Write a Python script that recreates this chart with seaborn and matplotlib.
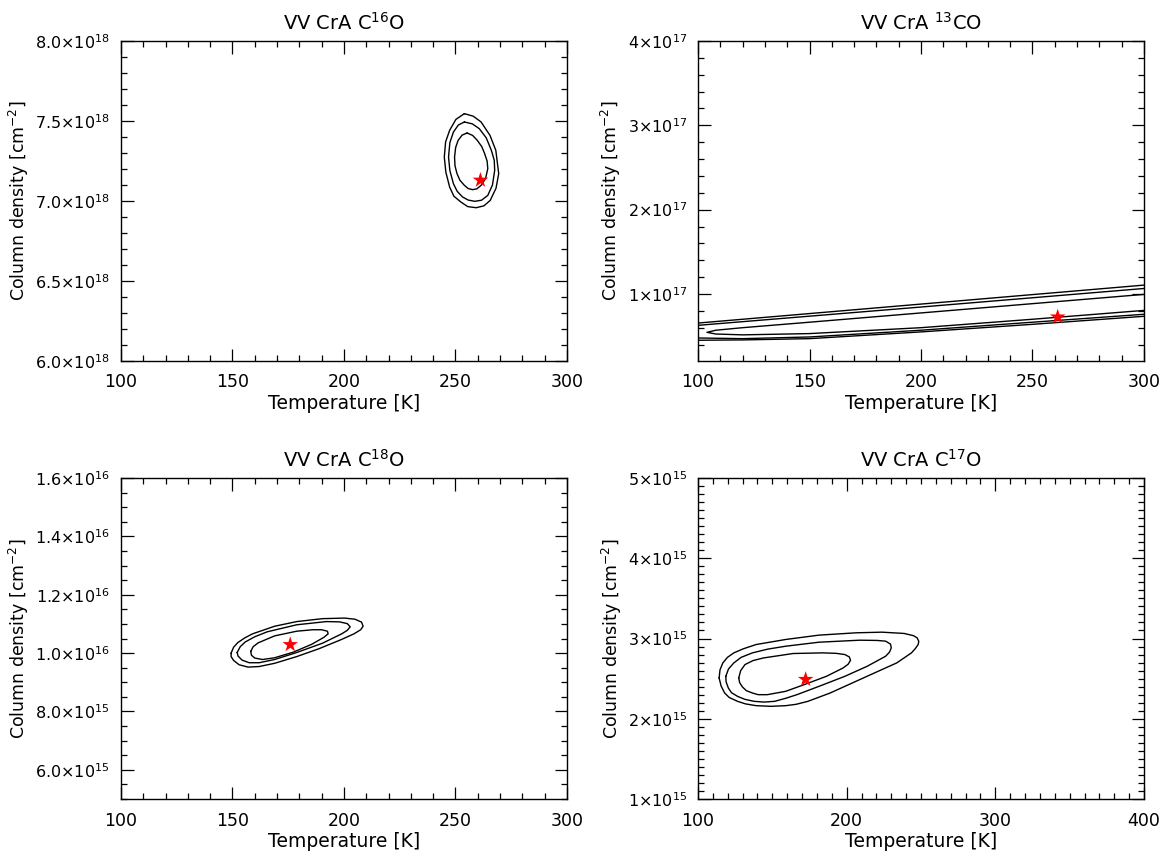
import matplotlib

matplotlib.use("Agg")
import matplotlib.pyplot as plt
from matplotlib.ticker import MultipleLocator, FuncFormatter
import numpy as np
import seaborn as sns

# chi^2 confidence contours; N in units of `scale`

# --- VV CrA C16O (N / 1e18) ---
c16o_scale = 1e18
c16o_outer_t = [254.0, 258.0, 261.5, 265.5, 268.1, 269.4, 268.2, 265.6, 262.8, 259.3, 255.5,
                252.4, 249.3, 247.4, 245.7, 245.0, 245.6, 247.4, 250.2, 254.0]
c16o_outer_n = [7.546, 7.530, 7.494, 7.410, 7.317, 7.171, 7.080, 7.004, 6.970, 6.958, 6.965,
                6.994, 7.030, 7.087, 7.180, 7.275, 7.370, 7.442, 7.510, 7.546]
c16o_mid_t = [254.0, 257.6, 260.7, 263.8, 266.1, 267.4, 267.6, 266.6, 264.5, 261.7, 258.7,
              255.7, 253.2, 250.8, 249.1, 247.5, 246.9, 247.5, 249.1, 251.3, 254.0]
c16o_mid_n = [7.494, 7.482, 7.452, 7.395, 7.317, 7.255, 7.192, 7.100, 7.035, 7.005, 6.998,
              7.006, 7.025, 7.060, 7.108, 7.190, 7.275, 7.365, 7.431, 7.475, 7.494]
c16o_inner_t = [255.2, 257.7, 259.8, 261.8, 263.1, 264.2, 264.5, 263.5, 261.5, 259.6, 257.7,
                255.7, 254.0, 252.0, 250.7, 249.8, 249.6, 250.1, 251.2, 253.0, 255.2]
c16o_inner_n = [7.425, 7.410, 7.379, 7.340, 7.296, 7.250, 7.202, 7.140, 7.098, 7.076, 7.071,
                7.078, 7.098, 7.130, 7.171, 7.220, 7.275, 7.335, 7.379, 7.412, 7.425]
c16o_best = (261.2, 7.13)

# --- VV CrA 13CO (N / 1e17) --- contours run off the grid edges
c13o_scale = 1e17
c13o_outer_top_t = [100, 200, 300]
c13o_outer_top_n = [0.655, 0.880, 1.105]
c13o_mid_top_t = [100, 200, 300]
c13o_mid_top_n = [0.628, 0.845, 1.065]
c13o_inner_t = [300, 250, 200, 150, 120, 108, 104, 108, 120, 150, 200, 250, 300]
c13o_inner_n = [0.995, 0.885, 0.775, 0.665, 0.600, 0.570, 0.545, 0.525, 0.515, 0.530, 0.600, 0.700, 0.805]
c13o_mid_bot_t = [100, 120, 150, 200, 250, 300]
c13o_mid_bot_n = [0.478, 0.470, 0.490, 0.570, 0.665, 0.759]
c13o_outer_bot_t = [100, 120, 150, 200, 250, 300]
c13o_outer_bot_n = [0.451, 0.455, 0.470, 0.550, 0.640, 0.735]
c13o_best = (261.3, 0.727)

# --- VV CrA C18O (N / 1e16) ---
c18o_scale = 1e16
c18o_outer_t = [149.4, 150.5, 152.4, 155.5, 159.0, 168.9, 178.8, 190.4, 200.3, 205.0, 207.9,
                208.6, 207.5, 204.5, 198.7, 188.8, 178.8, 168.9, 162.0, 157.0, 153.0, 150.5,
                149.4, 149.4]
c18o_outer_n = [1.000, 1.020, 1.036, 1.052, 1.066, 1.092, 1.108, 1.118, 1.120, 1.116, 1.106,
                1.092, 1.080, 1.066, 1.046, 1.015, 0.988, 0.965, 0.954, 0.952, 0.960, 0.975,
                0.988, 1.000]
c18o_mid_t = [152.1, 153.5, 155.7, 160.0, 165.6, 178.8, 192.1, 198.0, 201.5, 202.8, 201.5,
              199.0, 190.4, 178.8, 168.9, 162.0, 157.5, 154.3, 152.5, 152.1]
c18o_mid_n = [1.002, 1.022, 1.038, 1.056, 1.073, 1.097, 1.108, 1.107, 1.101, 1.090, 1.078,
              1.066, 1.034, 1.002, 0.978, 0.967, 0.967, 0.976, 0.990, 1.002]
c18o_inner_t = [158.2, 159.3, 161.5, 168.9, 178.8, 186.0, 190.0, 192.6, 192.9, 191.0, 185.5,
                177.2, 168.9, 163.5, 160.0, 158.5, 158.2]
c18o_inner_n = [1.006, 1.022, 1.035, 1.059, 1.075, 1.080, 1.080, 1.075, 1.066, 1.054, 1.030,
                1.003, 0.984, 0.978, 0.983, 0.993, 1.006]
c18o_best = (175.9, 1.029)

# --- VV CrA C17O (N / 1e15) ---
c17o_scale = 1e15
c17o_outer_t = [114.2, 114.8, 116.7, 119.8, 124.1, 130.5, 139.1, 159.0, 181.4, 206.3, 223.7,
                238.7, 245.0, 247.4, 248.5, 248.1, 246.2, 243.6, 233.7, 218.7, 203.8, 188.9,
                173.9, 166.0, 159.0, 149.0, 139.1, 132.0, 126.6, 121.0, 117.9, 115.5, 114.2]
c17o_outer_n = [2.508, 2.610, 2.696, 2.765, 2.821, 2.872, 2.925, 2.988, 3.042, 3.071, 3.079,
                3.063, 3.035, 3.008, 2.965, 2.925, 2.875, 2.821, 2.696, 2.571, 2.446, 2.321,
                2.217, 2.180, 2.163, 2.155, 2.163, 2.185, 2.217, 2.265, 2.321, 2.410, 2.508]
c17o_mid_t = [118.7, 120.5, 124.1, 129.0, 136.6, 147.0, 159.0, 181.4, 208.8, 220.5, 226.2,
              229.5, 230.0, 228.8, 226.2, 213.8, 198.8, 181.4, 166.5, 159.0, 151.5, 144.5,
              137.8, 131.5, 126.6, 122.5, 120.4, 118.9, 118.7]
c17o_mid_n = [2.529, 2.620, 2.696, 2.765, 2.821, 2.868, 2.904, 2.954, 2.979, 2.976, 2.967,
              2.930, 2.883, 2.830, 2.779, 2.654, 2.529, 2.404, 2.300, 2.255, 2.217, 2.208,
              2.217, 2.242, 2.279, 2.325, 2.383, 2.460, 2.529]
c17o_inner_t = [127.4, 128.7, 131.6, 137.0, 144.1, 164.0, 183.9, 193.0, 198.8, 201.8, 202.6,
                201.0, 197.6, 186.4, 171.4, 159.0, 146.6, 140.5, 136.6, 132.5, 129.9, 128.0, 127.4]
c17o_inner_n = [2.508, 2.600, 2.675, 2.725, 2.758, 2.813, 2.821, 2.815, 2.800, 2.770, 2.729,
                2.680, 2.633, 2.529, 2.425, 2.342, 2.300, 2.300, 2.321, 2.350, 2.396, 2.450, 2.508]
c17o_best = (172.4, 2.49)


def sci_formatter(decimals):
    def fmt(v, pos):
        if v <= 0:
            return ""
        exp = int(np.floor(np.log10(v) + 1e-9))
        mant = v / 10 ** exp
        return f"{mant:.{decimals}f}\u00d710$^{{{exp}}}$"
    return FuncFormatter(fmt)


def draw_panel(ax, title, scale, curves, best, xlim, xmaj, ylim, ymaj, ymin, decimals):
    for t, n in curves:
        sns.lineplot(x=t, y=np.array(n) * scale, ax=ax, sort=False, estimator=None,
                     color="black", lw=1.0)
    sns.scatterplot(x=[best[0]], y=[best[1] * scale], ax=ax, marker="*", s=140,
                    color="red", edgecolor="none", zorder=5)
    ax.set_xlim(*xlim)
    ax.set_ylim(ylim[0] * scale, ylim[1] * scale)
    ax.xaxis.set_major_locator(MultipleLocator(xmaj))
    ax.xaxis.set_minor_locator(MultipleLocator(10))
    ax.yaxis.set_major_locator(MultipleLocator(ymaj * scale))
    ax.yaxis.set_minor_locator(MultipleLocator(ymin * scale))
    ax.yaxis.set_major_formatter(sci_formatter(decimals))
    ax.tick_params(which="both", direction="in", top=True, right=True, width=0.9,
                   color="black", labelcolor="black")
    ax.tick_params(which="major", length=9)
    ax.tick_params(which="minor", length=4.5)
    ax.tick_params(axis="y", pad=8, labelsize=11.5)
    ax.tick_params(axis="x", pad=9, labelsize=12.5)
    ax.set_title(title, fontsize=14, pad=8, color="black")
    ax.set_xlabel("Temperature [K]", fontsize=13.5, labelpad=2, color="black")
    ax.set_ylabel(r"Column density [cm$^{-2}$]", fontsize=12.5, labelpad=3, color="black")
    for sp in ax.spines.values():
        sp.set_linewidth(1.0)
        sp.set_color("black")


sns.set_theme(style="ticks")
plt.rcParams["font.family"] = ["DejaVu Sans"]
plt.rcParams["mathtext.fontset"] = "dejavusans"
plt.rcParams["text.color"] = "black"

fig = plt.figure(figsize=(11.62, 8.51), dpi=100)
ax1 = fig.add_axes([0.1041, 0.5758, 0.3838, 0.376])
ax2 = fig.add_axes([0.6007, 0.5758, 0.3838, 0.376])
ax3 = fig.add_axes([0.1041, 0.0611, 0.3838, 0.3772])
ax4 = fig.add_axes([0.6007, 0.0611, 0.3838, 0.3772])

draw_panel(ax1, r"VV CrA C$^{16}$O", c16o_scale,
           [(c16o_outer_t, c16o_outer_n), (c16o_mid_t, c16o_mid_n), (c16o_inner_t, c16o_inner_n)],
           c16o_best, (100, 300), 50, (6.0, 8.0), 0.5, 0.1, 1)
draw_panel(ax2, r"VV CrA $^{13}$CO", c13o_scale,
           [(c13o_outer_top_t, c13o_outer_top_n), (c13o_mid_top_t, c13o_mid_top_n),
            (c13o_inner_t, c13o_inner_n), (c13o_mid_bot_t, c13o_mid_bot_n),
            (c13o_outer_bot_t, c13o_outer_bot_n)],
           c13o_best, (100, 300), 50, (0.205, 4.0), 1.0, 0.2, 0)
draw_panel(ax3, r"VV CrA C$^{18}$O", c18o_scale,
           [(c18o_outer_t, c18o_outer_n), (c18o_mid_t, c18o_mid_n), (c18o_inner_t, c18o_inner_n)],
           c18o_best, (100, 300), 50, (0.5, 1.6), 0.2, 0.05, 1)
draw_panel(ax4, r"VV CrA C$^{17}$O", c17o_scale,
           [(c17o_outer_t, c17o_outer_n), (c17o_mid_t, c17o_mid_n), (c17o_inner_t, c17o_inner_n)],
           c17o_best, (100, 400), 100, (1.0, 5.0), 1.0, 0.1, 0)

fig.savefig("out.png", dpi=100)
plt.close(fig)
